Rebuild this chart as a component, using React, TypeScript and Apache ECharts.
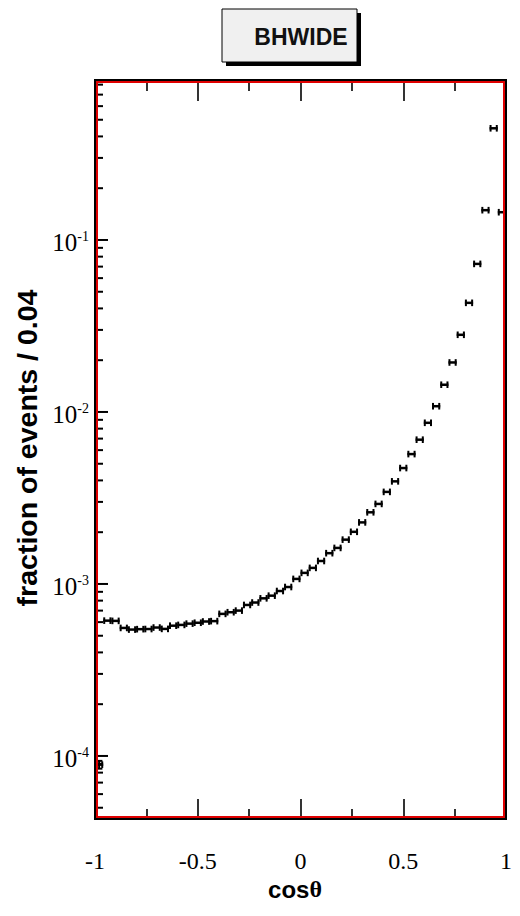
import React, { useEffect, useRef } from 'react';
import * as echarts from 'echarts';

// Bin centres of cos(theta), bin width 0.04
const binCenters = [
  -0.98, -0.94, -0.9, -0.86, -0.82, -0.78, -0.74, -0.7, -0.66, -0.62,
  -0.58, -0.54, -0.5, -0.46, -0.42, -0.38, -0.34, -0.3, -0.26, -0.22,
  -0.18, -0.14, -0.1, -0.06, -0.02, 0.02, 0.06, 0.1, 0.14, 0.18,
  0.22, 0.26, 0.3, 0.34, 0.38, 0.42, 0.46, 0.5, 0.54, 0.58,
  0.62, 0.66, 0.7, 0.74, 0.78, 0.82, 0.86, 0.9, 0.94, 0.98,
];
// fraction of events per bin
const fractions = [
  8.9e-5, 6.12e-4, 6.1e-4, 5.55e-4, 5.43e-4, 5.46e-4, 5.47e-4, 5.58e-4, 5.48e-4, 5.72e-4,
  5.78e-4, 5.88e-4, 5.95e-4, 6.05e-4, 6.08e-4, 6.7e-4, 6.85e-4, 7.0e-4, 7.55e-4, 7.8e-4,
  8.25e-4, 8.55e-4, 9.1e-4, 9.6e-4, 1.07e-3, 1.16e-3, 1.24e-3, 1.36e-3, 1.51e-3, 1.62e-3,
  1.81e-3, 2.01e-3, 2.28e-3, 2.61e-3, 2.92e-3, 3.43e-3, 3.95e-3, 4.72e-3, 5.69e-3, 6.9e-3,
  8.65e-3, 1.08e-2, 1.44e-2, 1.94e-2, 2.81e-2, 4.31e-2, 7.26e-2, 1.49e-1, 4.46e-1, 1.45e-1,
];
// relative statistical error per bin (only visible for the first bin)
const relErrors = [
  0.052, 0, 0, 0, 0, 0, 0, 0, 0, 0,
  0, 0, 0, 0, 0, 0, 0, 0, 0, 0,
  0, 0, 0, 0, 0, 0, 0, 0, 0, 0,
  0, 0, 0, 0, 0, 0, 0, 0, 0, 0,
  0, 0, 0, 0, 0, 0, 0, 0, 0, 0,
];
const binWidth = 0.04;
const xMin = -1;
const xMax = 1;
const xTickLabels = ['-1', '-0.5', '0', '0.5', '1'];
const yMin = 4.3e-5;
const yMax = 0.84;
const majorTickValues = [1e-4, 1e-3, 1e-2, 1e-1];
const minorTickValues = [
  5e-5, 6e-5, 7e-5, 8e-5, 9e-5,
  2e-4, 3e-4, 4e-4, 5e-4, 6e-4, 7e-4, 8e-4, 9e-4,
  2e-3, 3e-3, 4e-3, 5e-3, 6e-3, 7e-3, 8e-3, 9e-3,
  2e-2, 3e-2, 4e-2, 5e-2, 6e-2, 7e-2, 8e-2, 9e-2,
  0.2, 0.3, 0.4, 0.5, 0.6, 0.7, 0.8,
];

export default function App() {
  const ref = useRef<HTMLDivElement>(null);
  useEffect(() => {
    if (!ref.current) return;
    const chart = echarts.init(ref.current, undefined, { renderer: 'svg' });
    const glyphData = binCenters.map((x, i) => [x, fractions[i], relErrors[i]]);
    const tickStyle = { color: '#000', width: 1.6 };
    const yTickData = [
      ...majorTickValues.map((v) => [xMin, v, 13]),
      ...minorTickValues.map((v) => [xMin, v, 8]),
    ];
    const option: any = {
      animation: false,
      backgroundColor: '#fff',
      grid: { left: 95, right: 14, top: 81, bottom: 97 },
      xAxis: [
        {
          type: 'value', min: xMin, max: xMax, interval: 0.5, position: 'bottom',
          axisLine: { show: false, onZero: false }, splitLine: { show: false },
          axisTick: { show: true, inside: true, length: 20, lineStyle: tickStyle },
          minorTick: { show: true, splitNumber: 2, length: 10, lineStyle: tickStyle },
          axisLabel: {
            margin: 30, color: '#000', fontFamily: 'Liberation Serif', fontSize: 24,
            formatter: (v: number) => xTickLabels[Math.round((v + 1) / 0.5)] ?? '',
          },
        },
        {
          type: 'value', min: xMin, max: xMax, interval: 0.5, position: 'top',
          axisLine: { show: false, onZero: false }, splitLine: { show: false },
          axisTick: { show: true, inside: true, length: 20, lineStyle: tickStyle },
          minorTick: { show: true, splitNumber: 2, length: 10, lineStyle: tickStyle },
          axisLabel: { show: false },
        },
      ],
      yAxis: {
        type: 'log', logBase: 10, min: yMin, max: yMax, position: 'left',
        axisLine: { show: false, onZero: false }, splitLine: { show: false },
        axisTick: { show: false },
        axisLabel: {
          margin: 6, color: '#000', padding: [6, 0, 0, 0],
          formatter: (v: number) => {
            const l = Math.log10(v);
            const e = Math.round(l);
            if (Math.abs(l - e) > 1e-6) return '';
            return `{b|10}{s|${e}}`;
          },
          rich: {
            b: { fontFamily: 'Liberation Serif', fontSize: 25, color: '#000', lineHeight: 26 },
            s: { fontFamily: 'Liberation Serif', fontSize: 14, color: '#000', lineHeight: 26, verticalAlign: 'top' },
          },
        },
      },
      series: [
        {
          type: 'custom',
          xAxisIndex: 0,
          data: yTickData,
          renderItem: (_p: any, api: any) => {
            const p = api.coord([api.value(0), api.value(1)]);
            const len = api.value(2) as number;
            return {
              type: 'line',
              shape: { x1: p[0], y1: p[1], x2: p[0] + len, y2: p[1] },
              style: { stroke: '#000', lineWidth: 2 },
            };
          },
          z: 6,
        },
        {
          type: 'custom',
          xAxisIndex: 0,
          data: glyphData,
          renderItem: (_p: any, api: any) => {
            const x = api.value(0) as number;
            const y = api.value(1) as number;
            const e = api.value(2) as number;
            const x0 = x - binWidth / 2;
            const x1 = x + binWidth / 2;
            const l = api.coord([Math.max(xMin, x0), y]);
            const r = api.coord([Math.min(xMax, x1), y]);
            const cap = 3.3;
            const s1 = { stroke: '#000', lineWidth: 2.5 };
            const s2 = { stroke: '#000', lineWidth: 2 };
            const children: any[] = [
              { type: 'line', shape: { x1: l[0], y1: l[1], x2: r[0], y2: r[1] }, style: s1 },
            ];
            if (x0 >= xMin) children.push({ type: 'line', shape: { x1: l[0] + 1, y1: l[1] - cap, x2: l[0] + 1, y2: l[1] + cap }, style: s2 });
            if (x1 <= xMax) children.push({ type: 'line', shape: { x1: r[0] - 1, y1: r[1] - cap, x2: r[0] - 1, y2: r[1] + cap }, style: s2 });
            if (e > 0) {
              const t = api.coord([x, y * (1 + e)]);
              const b = api.coord([x, y * (1 - e)]);
              children.push(
                { type: 'line', shape: { x1: t[0], y1: t[1], x2: b[0], y2: b[1] }, style: s2 },
                { type: 'line', shape: { x1: t[0] - cap, y1: t[1], x2: t[0] + cap, y2: t[1] }, style: s2 },
                { type: 'line', shape: { x1: b[0] - cap, y1: b[1], x2: b[0] + cap, y2: b[1] }, style: s2 },
              );
            }
            return { type: 'group', children };
          },
          z: 5,
        },
      ],
      graphic: [
        { type: 'rect', z: 100, shape: { x: 226, y: 13, width: 135, height: 53 }, style: { fill: '#000' } },
        { type: 'rect', z: 101, shape: { x: 222, y: 9, width: 135, height: 53 }, style: { fill: '#f0f0f0', stroke: '#000', lineWidth: 1 } },
        {
          type: 'text', z: 102, x: 301, y: 37,
          style: { text: 'BHWIDE', font: 'bold 23px "Liberation Sans"', fill: '#111', align: 'center', verticalAlign: 'middle', textAlign: 'center', textVerticalAlign: 'middle' },
        },
        { type: 'rect', z: 100, shape: { x: 97, y: 82, width: 407, height: 735 }, style: { fill: 'none', stroke: '#e00000', lineWidth: 2 } },
        { type: 'rect', z: 101, shape: { x: 95, y: 80, width: 411, height: 739 }, style: { fill: 'none', stroke: '#000', lineWidth: 2 } },
        {
          type: 'text', z: 100, x: 27, y: 448, rotation: Math.PI / 2,
          style: { text: 'fraction of events / 0.04', font: 'bold 28.5px "Liberation Sans"', fill: '#000', align: 'center', verticalAlign: 'middle', textAlign: 'center', textVerticalAlign: 'middle' },
        },
        {
          type: 'text', z: 100, x: 295, y: 889,
          style: {
            text: '{a|cos}{t|θ}', align: 'center', verticalAlign: 'middle', textAlign: 'center', textVerticalAlign: 'middle',
            rich: {
              a: { font: 'bold 24px "Liberation Sans"', fill: '#000' },
              t: { font: 'bold 24px "Liberation Serif"', fill: '#000' },
            },
          },
        },
      ],
    };
    chart.setOption(option);
    return () => chart.dispose();
  }, []);
  return <div ref={ref} style={{ width: 520, height: 916, position: 'absolute', left: 0, top: 0 }} />;
}
